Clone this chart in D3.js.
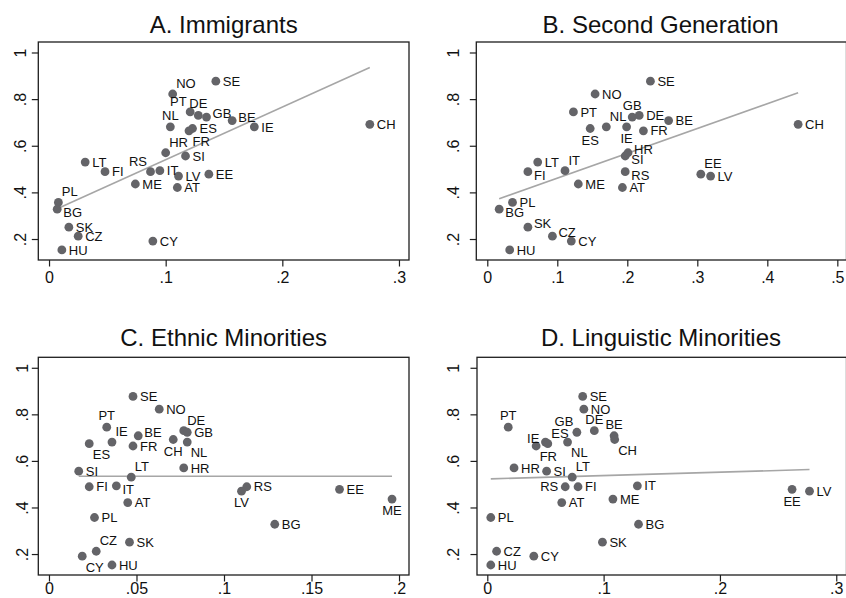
<!DOCTYPE html>
<html>
<head>
<meta charset="utf-8">
<script src="https://cdn.jsdelivr.net/npm/d3@7/dist/d3.min.js"></script>
<style>
  html, body { margin: 0; padding: 0; background: #fff; }
  svg { display: block; font-family: "Liberation Sans", Arial, Helvetica, sans-serif; }
</style>
</head>
<body>
<svg id="chart" width="846" height="598"></svg>
<script>
// Country codes (one point per country in every panel)
const countries = ["SE","NO","PT","DE","GB","BE","CH","NL","IE","ES","FR","HR","SI","LT",
                   "IT","FI","RS","EE","LV","ME","AT","PL","BG","SK","CZ","CY","HU"];

// Outcome on the vertical axis (same for all four panels)
const outcome = [0.877,0.822,0.745,0.730,0.723,0.708,0.692,0.681,0.681,0.674,0.664,0.570,0.556,0.530,
                 0.493,0.489,0.489,0.478,0.470,0.436,0.421,0.357,0.328,0.251,0.212,0.191,0.153];

// Group shares on the horizontal axis, one array per panel
const immigrants = [0.143,0.106,0.121,0.128,0.135,0.157,0.275,0.104,0.176,0.123,0.120,0.100,0.117,0.031,
                    0.095,0.048,0.087,0.137,0.111,0.074,0.110,0.008,0.007,0.017,0.025,0.089,0.011];
const secondGeneration = [0.233,0.154,0.123,0.217,0.207,0.259,0.444,0.170,0.199,0.147,0.223,0.201,0.197,0.072,
                          0.111,0.058,0.197,0.305,0.319,0.130,0.193,0.036,0.017,0.058,0.093,0.120,0.032];
const ethnicMinorities = [0.048,0.063,0.033,0.077,0.079,0.051,0.071,0.079,0.036,0.023,0.048,0.077,0.017,0.047,
                          0.0385,0.023,0.113,0.166,0.110,0.196,0.045,0.026,0.129,0.046,0.027,0.019,0.036];
const linguisticMinorities = [0.082,0.083,0.018,0.092,0.077,0.109,0.1095,0.069,0.050,0.052,0.042,0.023,0.051,0.073,
                              0.129,0.078,0.067,0.262,0.277,0.108,0.064,0.003,0.130,0.099,0.008,0.040,0.003];

// Linear fit per panel: [intercept, slope]
const fitImmigrants = [0.314, 2.262];
const fitSecondGeneration = [0.355, 1.064];
const fitEthnic = [0.534, 0.0];
const fitLinguistic = [0.5225, 0.146];

// Axis ticks
const yTicks = [0.2, 0.4, 0.6, 0.8, 1];
const xTicksA = [0, 0.1, 0.2, 0.3];
const xTicksB = [0, 0.1, 0.2, 0.3, 0.4, 0.5];
const xTicksC = [0, 0.05, 0.1, 0.15, 0.2];
const xTicksD = [0, 0.1, 0.2, 0.3];

// Marker label positions (clock positions; unlisted countries sit at 3 o'clock)
const labelPosA = {NO:1, PT:11, DE:12, GB:2, BE:2, NL:12, FR:5, HR:1, RS:11, PL:1, BG:4};
const labelPosB = {GB:12, NL:1, ES:6, IE:6, HR:2, SI:4, IT:1, FI:4, RS:4, EE:1, BG:4, SK:2, CZ:2};
const labelPosC = {PT:12, IE:1, BE:2, DE:1, ES:5, CH:6, NL:5, LT:1, IT:4, LV:6, ME:6, CZ:1, CY:5};
const labelPosD = {PT:12, IE:10, ES:1, FR:5, GB:11, DE:12, BE:12, CH:5, NL:5, LT:1, RS:9, EE:6};

const panels = [
  {title: "A. Immigrants", xs: immigrants, fit: fitImmigrants, xTicks: xTicksA, labelPos: labelPosA,
   left: 38.3, right: 409, top: 42, bottom: 260, xDomain: [-0.0092, 0.3086], yLabelX: 26, titleY: 33.3, pad: 5.4},
  {title: "B. Second Generation", xs: secondGeneration, fit: fitSecondGeneration, xTicks: xTicksB, labelPos: labelPosB,
   left: 476.3, right: 846.5, top: 42, bottom: 260, xDomain: [-0.0157, 0.5131], yLabelX: 458.5, titleY: 33.3, pad: 5.4},
  {title: "C. Ethnic Minorities", xs: ethnicMinorities, fit: fitEthnic, xTicks: xTicksC, labelPos: labelPosC,
   left: 38.3, right: 409, top: 357.3, bottom: 575, xDomain: [-0.0061, 0.2057], yLabelX: 27.5, titleY: 346, pad: 1.6},
  {title: "D. Linguistic Minorities", xs: linguisticMinorities, fit: fitLinguistic, xTicks: xTicksD, labelPos: labelPosD,
   left: 477, right: 846.5, top: 357.3, bottom: 575, xDomain: [-0.00885, 0.3088], yLabelX: 458.5, titleY: 346, pad: 1.6}
];

const yDomain = [0.11, 1.045];
const markerColor = "#646468";
const fitColor = "#a6a6a6";
const frameColor = "#1e1e1e";

const fmt = d => (d === 0 ? "0" : d === 1 ? "1" : String(+d.toFixed(3)).replace(/^0/, ""));

// Offset and anchoring of a marker label for a clock position
function placement(pos) {
  const R = 7, capH = 9.3;
  const th = pos * Math.PI / 6;
  const s = Math.sin(th), c = Math.cos(th);
  const px = R * s, py = -R * c;
  const anchor = s > 0.3 ? "start" : s < -0.3 ? "end" : "middle";
  let base;
  if (c > 0.7) base = py;
  else if (c < -0.7) base = py + capH;
  else base = py + capH / 2;
  return {dx: px, dy: base, anchor};
}

const svg = d3.select("#chart");
svg.append("rect").attr("width", 846).attr("height", 598).attr("fill", "#fff");

panels.forEach(p => {
  const x = d3.scaleLinear().domain(p.xDomain).range([p.left, p.right]);
  const y = d3.scaleLinear().domain(yDomain).range([p.bottom, p.top]);
  const g = svg.append("g");

  // title
  g.append("text")
    .attr("x", (p.left + Math.min(p.right, 845)) / 2)
    .attr("y", p.titleY)
    .attr("text-anchor", "middle")
    .attr("font-size", 24)
    .attr("fill", "#111")
    .text(p.title);

  // frame
  g.append("rect")
    .attr("x", p.left).attr("y", p.top)
    .attr("width", p.right - p.left).attr("height", p.bottom - p.top)
    .attr("fill", "none").attr("stroke", frameColor).attr("stroke-width", 1.3);

  // x axis
  const xAxis = g.append("g")
    .attr("transform", `translate(0,${p.bottom})`)
    .call(d3.axisBottom(x).tickValues(p.xTicks).tickFormat(fmt).tickSize(6.5).tickSizeOuter(0).tickPadding(p.pad));
  xAxis.select(".domain").remove();
  xAxis.selectAll(".tick line").attr("stroke", frameColor).attr("stroke-width", 1.2);
  xAxis.selectAll(".tick text").attr("font-size", 16).attr("fill", "#111")
    .attr("font-family", "Liberation Sans, Arial, Helvetica, sans-serif");

  // y axis with vertical labels
  const yAxis = g.append("g")
    .attr("transform", `translate(${p.left},0)`)
    .call(d3.axisLeft(y).tickValues(yTicks).tickFormat(fmt).tickSize(6.5).tickSizeOuter(0));
  yAxis.select(".domain").remove();
  yAxis.selectAll(".tick line").attr("stroke", frameColor).attr("stroke-width", 1.2);
  yAxis.selectAll(".tick text")
    .attr("x", null).attr("dy", null)
    .attr("text-anchor", "middle")
    .attr("font-size", 16).attr("fill", "#111")
    .attr("font-family", "Liberation Sans, Arial, Helvetica, sans-serif")
    .attr("transform", `translate(${p.yLabelX - p.left},0) rotate(-90)`);

  // fitted line across the observed range
  const xMin = d3.min(p.xs), xMax = d3.max(p.xs);
  const line = d3.line().x(d => x(d)).y(d => y(p.fit[0] + p.fit[1] * d));
  g.append("path")
    .datum([xMin, xMax])
    .attr("d", line)
    .attr("fill", "none").attr("stroke", fitColor).attr("stroke-width", 1.6);

  const data = countries.map((c, i) => ({code: c, xv: p.xs[i], yv: outcome[i]}));

  g.append("g").selectAll("circle").data(data).join("circle")
    .attr("cx", d => x(d.xv)).attr("cy", d => y(d.yv)).attr("r", 4.4)
    .attr("fill", markerColor);

  g.append("g").selectAll("text").data(data).join("text")
    .each(function(d) {
      const pl = placement(p.labelPos[d.code] || 3);
      d3.select(this)
        .attr("x", x(d.xv) + pl.dx).attr("y", y(d.yv) + pl.dy)
        .attr("text-anchor", pl.anchor);
    })
    .attr("font-size", 13).attr("fill", "#111")
    .text(d => d.code);
});
</script>
</body>
</html>
